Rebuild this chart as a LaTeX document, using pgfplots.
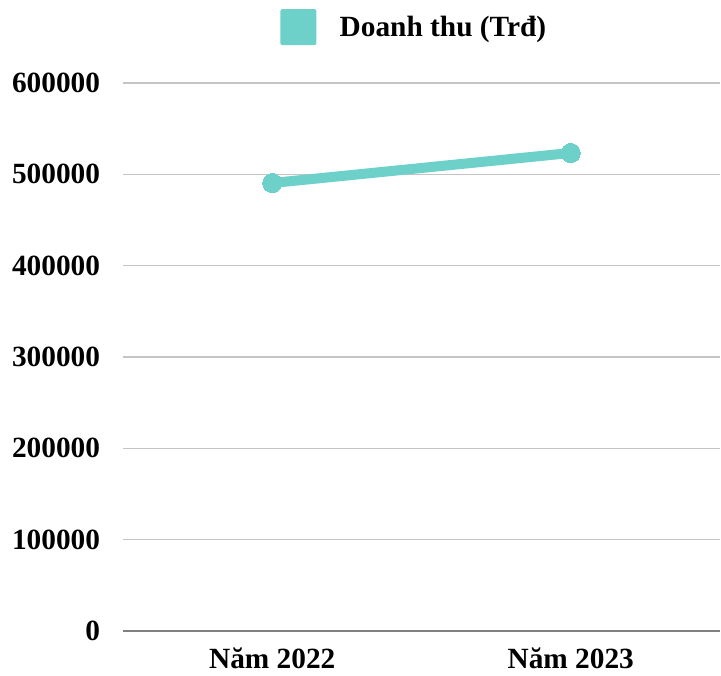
\documentclass[border=0pt]{standalone}
\usepackage{fontspec}
\setmainfont{Liberation Serif}
\usepackage{pgfplots}
\pgfplotsset{compat=1.18}
\definecolor{teal1}{HTML}{6DD0C9}
\definecolor{gridc}{HTML}{C4C4C4}
\definecolor{axisc}{HTML}{808080}
\begin{document}
\begin{tikzpicture}
\path[use as bounding box] (0,0) rectangle (540.75pt,506.25pt);
\begin{axis}[
  at={(92.25pt,33pt)}, anchor=south west,
  scale only axis, width=447.75pt, height=411pt,
  xmin=-0.5, xmax=1.5, ymin=0, ymax=600000,
  xtick={0,1}, xticklabels={Năm 2022, Năm 2023},
  ytick={0,100000,...,600000},
  scaled y ticks=false,
  /pgf/number format/assume math mode=true,
  yticklabel={\pgfmathprintnumber[fixed,1000 sep={}]{\tick}},
  axis line style={draw=none},
  axis x line*=bottom,
  tick style={draw=none},
  ymajorgrids, grid style={gridc, line width=1.2pt},
  ticklabel style={font=\fontsize{22}{26}\selectfont\bfseries, inner sep=0pt},
  yticklabel style={anchor=east, xshift=-17pt},
  xticklabel style={anchor=base, yshift=-27.75pt},
  clip=false,
  legend style={draw=none, fill=none, at={(0.4885,1.102)}, anchor=center,
    font=\fontsize{22}{26}\selectfont\bfseries, inner sep=0pt,
    /tikz/every even column/.append style={column sep=0pt}},
  legend image code/.code={\path[fill=teal1, draw=none, rounded corners=1.5pt] (-2.5pt,-13.5pt) rectangle (24.5pt,13.5pt);},
]
\draw[axisc, line width=1.5pt] (rel axis cs:0,0) -- (rel axis cs:1,0);
\addplot[teal1, line width=7.5pt, mark=*, mark size=7.2pt, mark options={fill=teal1, draw=teal1, line width=0pt}]
  coordinates {(0,490500) (1,523400)};
\addlegendentry{\hspace{15.5pt}Doanh thu (Trđ)}
\end{axis}
\end{tikzpicture}
\end{document}
